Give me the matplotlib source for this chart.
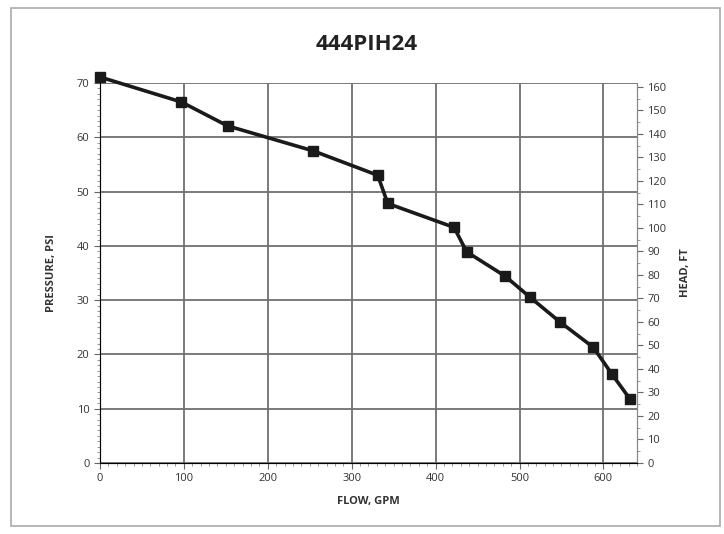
import matplotlib.pyplot as plt
from matplotlib.patches import Rectangle
from matplotlib.ticker import MultipleLocator

# courbe de la pompe 444PIH24
flow_gpm = [0, 97, 152, 254, 331, 343, 422, 437, 483, 512, 548, 588, 610, 632]
pressure_psi = [71.1, 66.5, 62.1, 57.5, 53.0, 47.8, 43.4, 38.9, 34.4, 30.6, 26.0, 21.3, 16.4, 11.7]
psi_to_ft = 2.31

fig = plt.figure(figsize=(7.24, 5.34), dpi=100)
plt.rcParams['font.family'] = ['Open Sans', 'DejaVu Sans']

ax = fig.add_axes([0.1381, 0.133, 0.7417, 0.7116])
ax.plot(flow_gpm, pressure_psi, color="#1a1a1a", linewidth=2.6, marker='s',
        markersize=6.5, clip_on=False, zorder=5)

ax.set_xlim(0, 640)
ax.set_ylim(0, 70)
ax.xaxis.set_major_locator(MultipleLocator(100))
ax.xaxis.set_minor_locator(MultipleLocator(10))
ax.yaxis.set_major_locator(MultipleLocator(10))
ax.yaxis.set_minor_locator(MultipleLocator(1))
ax.grid(True, which='major', color="#707070", linewidth=1.3)
ax.tick_params(which='major', direction='out', length=4, labelsize=8, color="#666666", labelcolor="#333333")
ax.tick_params(which='minor', direction='out', length=2.5, color="#888888")
ax.spines['top'].set_visible(False)
for s in ['left', 'bottom', 'right']:
    ax.spines[s].set_color("#888888")
ax.set_xlabel("FLOW, GPM", fontsize=8, fontweight='bold', color="#333333", labelpad=8)
ax.set_ylabel("PRESSURE, PSI", fontsize=8, fontweight='bold', color="#333333", labelpad=14)

# axe droit en pieds
ax2 = ax.twinx()
ax2.set_ylim(0, 70 * psi_to_ft)
ax2.yaxis.set_major_locator(MultipleLocator(10))
ax2.yaxis.set_minor_locator(MultipleLocator(5))
ax2.tick_params(which='major', direction='out', length=4, labelsize=8, color="#666666", labelcolor="#333333")
ax2.tick_params(which='minor', direction='out', length=2, color="#888888")
ax2.spines['top'].set_visible(False)
ax2.spines['right'].set_color("#888888")
ax2.set_ylabel("HEAD, FT", fontsize=8, fontweight='bold', color="#333333", labelpad=10)

fig.text(0.507, 0.916, "444PIH24", ha='center', va='center', fontsize=16, fontweight='bold', color="#222222")

# cadre du graphique
fig.patches.append(Rectangle((0.015, 0.015), 0.98, 0.97, transform=fig.transFigure,
                             fill=False, edgecolor="#aaaaaa", linewidth=1.2))

plt.savefig("out.png")
